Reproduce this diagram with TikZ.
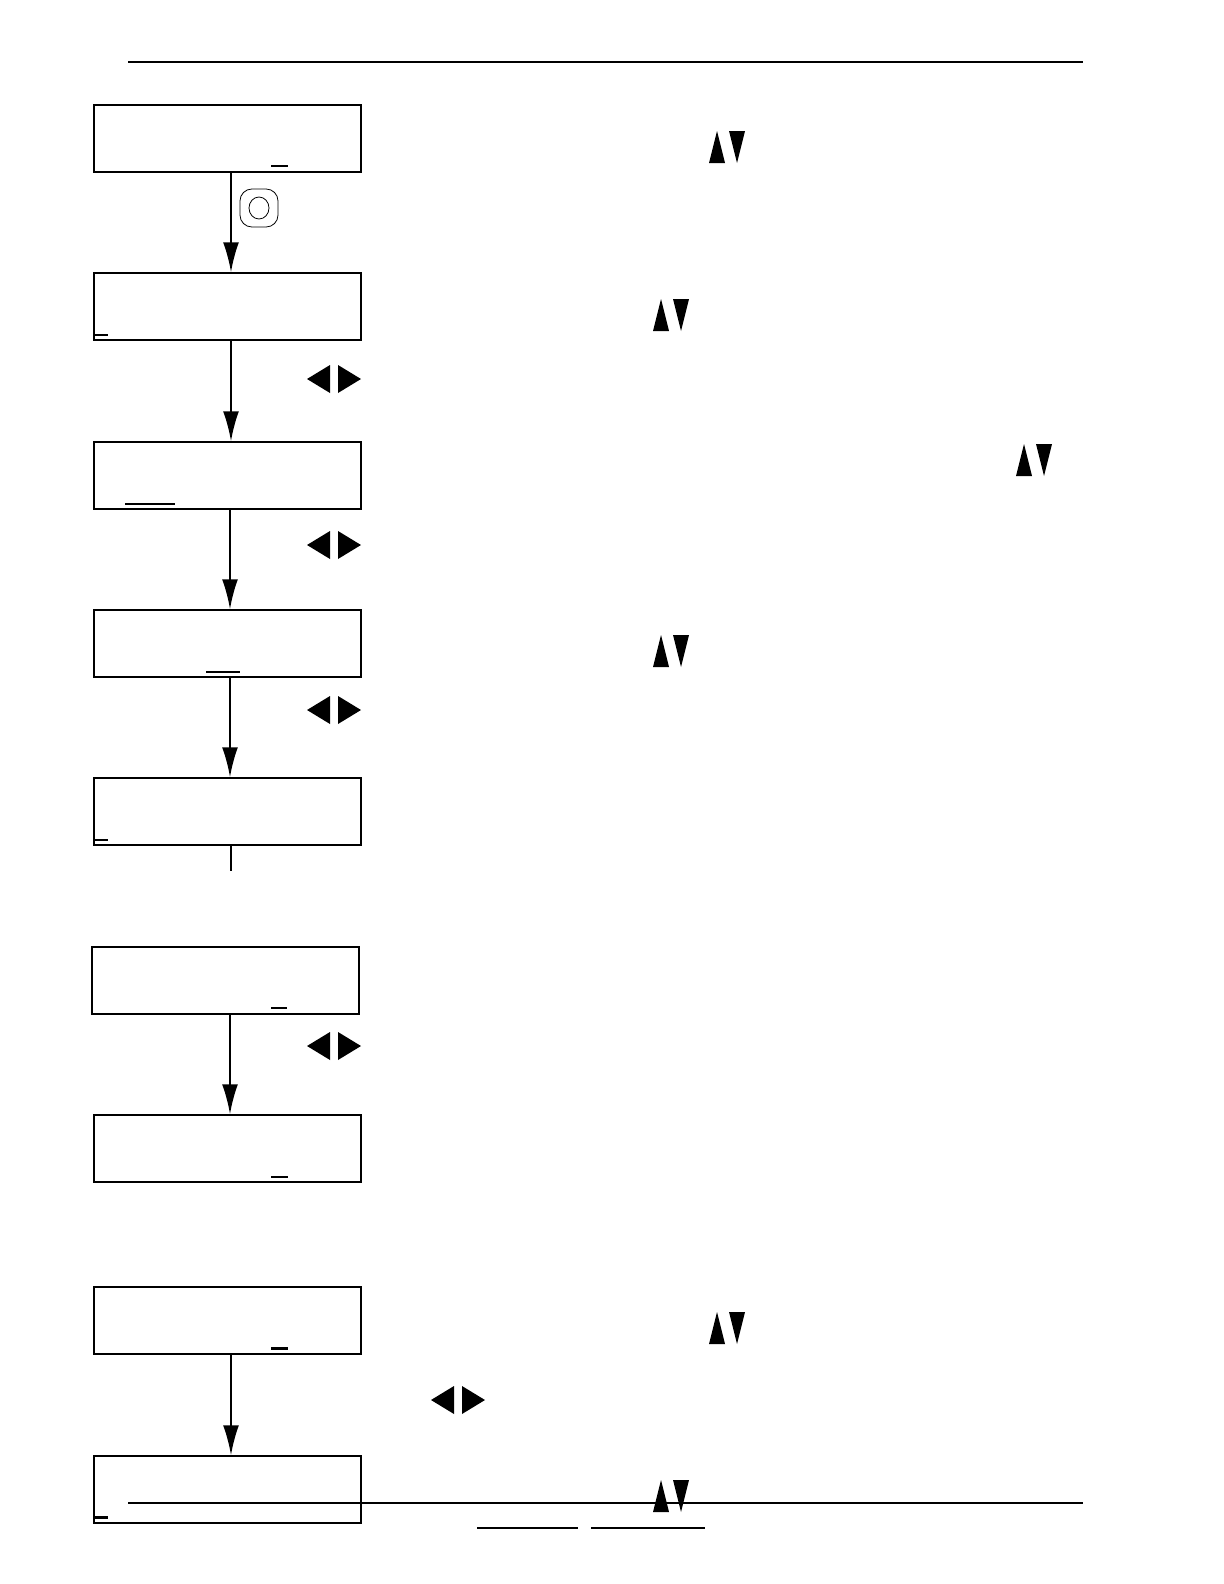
\documentclass[tikz,border=0pt]{standalone}
\usetikzlibrary{arrows.meta}
\tikzset{every picture/.style={line width=0.75pt}}
\tikzset{
  screen/.style={draw,line width=1pt,minimum width=135pt,minimum height=33.9pt,inner sep=0pt,anchor=north west},
  flow/.style={-{Latex[length=15pt,width=8pt]}},
  cursor/.style={line width=1.5pt}
}
\newcommand\updownkeys[2]{%
  \fill (#1-18,#2+16) -- (#1-2,#2+16) -- (#1-10,#2-16) -- cycle;
  \fill (#1+2,#2-16) -- (#1+18,#2-16) -- (#1+10,#2+16) -- cycle;}
\newcommand\leftrightkeys[2]{%
  \fill (#1-4,#2-14) -- (#1-4,#2+14) -- (#1-27,#2) -- cycle;
  \fill (#1+4,#2-14) -- (#1+4,#2+14) -- (#1+27,#2) -- cycle;}
\begin{document}
\begin{tikzpicture}[x=0.5055pt,y=0.5055pt,yscale=-1,xscale=1]
	\useasboundingbox (0,0) rectangle (1224,1584);

	% rules of the page
	\draw (128,62) -- (1083,62);
	\draw (128,1503) -- (1083,1503);
	\draw (477,1528) -- (578,1528);
	\draw (591,1528) -- (705,1528);

	% screens
	\node[screen] (s1) at (93,104) {};
	\node[screen] (s2) at (93,272) {};
	\node[screen] (s3) at (93,441) {};
	\node[screen] (s4) at (93,609) {};
	\node[screen] (s5) at (93,777) {};
	\node[screen] (s6) at (91,946) {};
	\node[screen] (s7) at (93,1114) {};
	\node[screen] (s8) at (93,1286) {};
	\node[screen] (s9) at (93,1455) {};

	% cursors
	\draw[cursor] (271,166) -- (288,166);
	\draw[cursor] (93,335) -- (108,335);
	\draw[cursor] (125,504) -- (175,504);
	\draw[cursor] (206,672) -- (240,672);
	\draw[cursor] (93,840) -- (108,840);
	\draw[cursor] (271,1008) -- (287,1008);
	\draw[cursor] (271,1177) -- (288,1177);
	\draw[cursor] (271,1348) -- (288,1348);
	\draw[cursor] (93,1517) -- (108,1517);

	% connectors
	\coordinate (ax) at (231,0);
	\coordinate (bx) at (230,0);
	\draw[flow] (s1.south -| ax) -- (s2.north -| ax);
	\draw[flow] (s2.south -| ax) -- (s3.north -| ax);
	\draw[flow] (s3.south -| bx) -- (s4.north -| bx);
	\draw[flow] (s4.south -| bx) -- (s5.north -| bx);
	\coordinate (e5) at (231,871);
	\draw (s5.south -| ax) -- (e5);
	\draw[flow] (s6.south -| bx) -- (s7.north -| bx);
	\draw[flow] (s8.south -| ax) -- (s9.north -| ax);

	% enter key
	\draw[line width=0.4pt,rounded corners=6pt] (240,189) rectangle (278,227);
	\draw[line width=0.4pt] (259,208) ellipse (10 and 11);

	% keys
	\updownkeys{727}{147}
	\updownkeys{671}{315}
	\updownkeys{1034}{460}
	\updownkeys{671}{651}
	\updownkeys{727}{1328}
	\updownkeys{671}{1496}
	\leftrightkeys{334}{379}
	\leftrightkeys{334}{545}
	\leftrightkeys{334}{710}
	\leftrightkeys{334}{1046}
	\leftrightkeys{458}{1400}
\end{tikzpicture}
\end{document}
